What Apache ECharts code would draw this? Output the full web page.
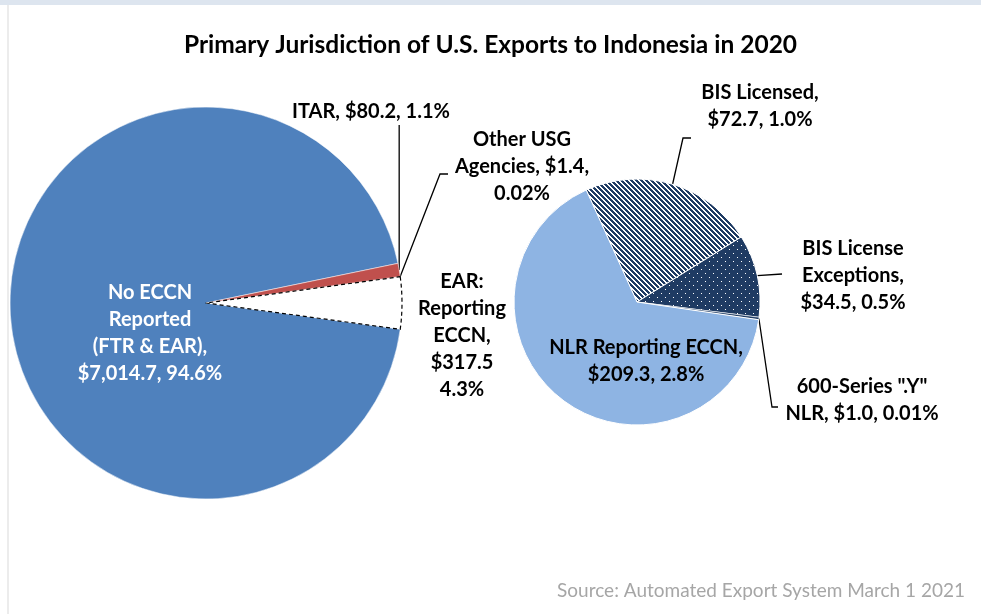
<!DOCTYPE html>
<html>
<head>
<meta charset="utf-8">
<script src="https://cdn.jsdelivr.net/npm/echarts@6/dist/echarts.min.js"></script>
<style>
  html, body { margin: 0; padding: 0; background: #fff; }
  #main { width: 981px; height: 614px; }
</style>
</head>
<body>
<div id="main"></div>
<script>
// primary pie (US$ millions)
const leftNames = ['No ECCN Reported (FTR & EAR)', 'ITAR', 'Other USG Agencies', 'EAR: Reporting ECCN']
const leftValues = [7014.7, 80.2, 1.4, 317.5]
const leftPercents = ['94.6%', '1.1%', '0.02%', '4.3%']
const leftLabels = [
  'No ECCN\nReported\n(FTR & EAR),\n{v}, {p}',
  'ITAR, {v}, {p}',
  'Other USG\nAgencies, {v},\n{p}',
  'EAR:\nReporting\nECCN,\n{v}\n{p}'
]
// breakdown of EAR: Reporting ECCN
const rightNames = ['BIS Licensed', 'BIS License Exceptions', '600-Series ".Y" NLR', 'NLR Reporting ECCN']
const rightValues = [72.7, 34.5, 1.0, 209.3]
const rightPercents = ['1.0%', '0.5%', '0.01%', '2.8%']
const rightLabels = [
  'BIS Licensed,\n{v}, {p}',
  'BIS License\nExceptions,\n{v}, {p}',
  '600-Series ".Y"\nNLR, {v}, {p}',
  'NLR Reporting ECCN,\n{v}, {p}'
]

const navy = '#1f3b63'
const font = 'Lato, "Open Sans", sans-serif'

const makePattern = (w, h, bg, fg, test) => {
  const c = document.createElement('canvas')
  c.width = w
  c.height = h
  const g = c.getContext('2d')
  g.fillStyle = bg
  g.fillRect(0, 0, w, h)
  g.fillStyle = fg
  for (let y = 0; y < h; y++) {
    for (let x = 0; x < w; x++) {
      if (test(x, y)) g.fillRect(x, y, 1, 1)
    }
  }
  return { image: c, repeat: 'repeat' }
}
const stripes = makePattern(5, 5, '#ffffff', navy, (x, y) => (((x - y) % 5) + 5) % 5 < 3)
const dots = makePattern(8, 8, navy, '#ffffff', (x, y) => (x === 1 && y === 1) || (x === 5 && y === 5))

const leftColors = ['#4f81bd', '#c0504d', '#c0504d', '#ffffff']
const rightColors = [stripes, dots, navy, '#8eb4e3']

const fmtValue = (v) => '$' + v.toLocaleString('en-US', { minimumFractionDigits: 1, maximumFractionDigits: 1 })

// label placement (center of text block) and leader line bends
const leftLayout = [
  { x: 150, y: 333, color: '#fff' },
  { x: 371, y: 112, line: (p) => [p, [p[0], 125]] },
  { x: 522, y: 167, line: (p) => [p, [440, 174], [448, 174]] },
  { x: 462, y: 336 }
]
const rightLayout = [
  { x: 760, y: 106, line: (p) => [p, [683, 138], [691, 138]] },
  { x: 853, y: 276, line: (p) => [p, [782, 274]] },
  { x: 862, y: 400, line: (p) => [p, [772, 407], [778, 407]] },
  { x: 646, y: 361 }
]

const buildData = (names, values, percents, labels, colors, layout, borders) =>
  names.map((name, i) => ({
    name,
    value: values[i],
    itemStyle: Object.assign({ color: colors[i] }, borders[i]),
    label: {
      color: layout[i].color || '#000',
      formatter: labels[i].replace('{v}', fmtValue(values[i])).replace('{p}', percents[i])
    },
    labelLine: { show: !!layout[i].line }
  }))

const earShare = leftValues[3] / leftValues.reduce((a, b) => a + b, 0)

const labelStyle = {
  show: true,
  position: 'outside',
  fontFamily: font,
  fontWeight: 'bold',
  fontSize: 20,
  lineHeight: 27,
  align: 'center'
}

const placeLabel = (layout) => (params) => {
  const cfg = layout[params.dataIndex]
  const out = { x: cfg.x, y: cfg.y, align: 'center', verticalAlign: 'middle' }
  if (cfg.line && params.labelLinePoints) out.labelLinePoints = cfg.line(params.labelLinePoints[0])
  return out
}

const chart = echarts.init(document.getElementById('main'))
chart.setOption({
  animation: false,
  backgroundColor: '#fff',
  title: {
    text: 'Primary Jurisdiction of U.S. Exports to Indonesia in 2020',
    left: 'center',
    top: 28,
    textStyle: { fontFamily: font, fontWeight: 'bold', fontSize: 24.5, color: '#000' }
  },
  graphic: [
    { type: 'rect', left: 0, top: 0, shape: { width: 981, height: 5 }, style: { fill: '#dde5ef' }, silent: true },
    { type: 'rect', left: 7, top: 5, shape: { width: 2, height: 609 }, style: { fill: '#ececec' }, silent: true },
    {
      type: 'text',
      right: 16,
      top: 581,
      style: { text: 'Source: Automated Export System March 1 2021', fill: '#a6a6a6', font: '19px ' + font }
    }
  ],
  series: [
    {
      type: 'pie',
      center: [206, 303],
      radius: 196,
      startAngle: -earShare * 180,
      clockwise: true,
      avoidLabelOverlap: false,
      silent: true,
      data: buildData(
        leftNames, leftValues, leftPercents, leftLabels, leftColors, leftLayout,
        [
          { borderColor: '#fff', borderWidth: 0.5 },
          { borderColor: '#fff', borderWidth: 0.5 },
          { borderWidth: 0 },
          { borderColor: '#000', borderWidth: 1.2, borderType: [4, 3] }
        ]
      ),
      label: labelStyle,
      labelLine: { lineStyle: { color: '#000', width: 1.3 } },
      labelLayout: placeLabel(leftLayout)
    },
    {
      type: 'pie',
      center: [637, 302],
      radius: 123,
      startAngle: 114.4,
      clockwise: true,
      avoidLabelOverlap: false,
      silent: true,
      data: buildData(
        rightNames, rightValues, rightPercents, rightLabels, rightColors, rightLayout,
        [
          { borderColor: '#fff', borderWidth: 1 },
          { borderColor: '#fff', borderWidth: 1 },
          { borderColor: '#fff', borderWidth: 0.5 },
          { borderColor: '#fff', borderWidth: 1 }
        ]
      ),
      label: labelStyle,
      labelLine: { lineStyle: { color: '#000', width: 1.3 } },
      labelLayout: placeLabel(rightLayout)
    }
  ]
})
</script>
</body>
</html>
